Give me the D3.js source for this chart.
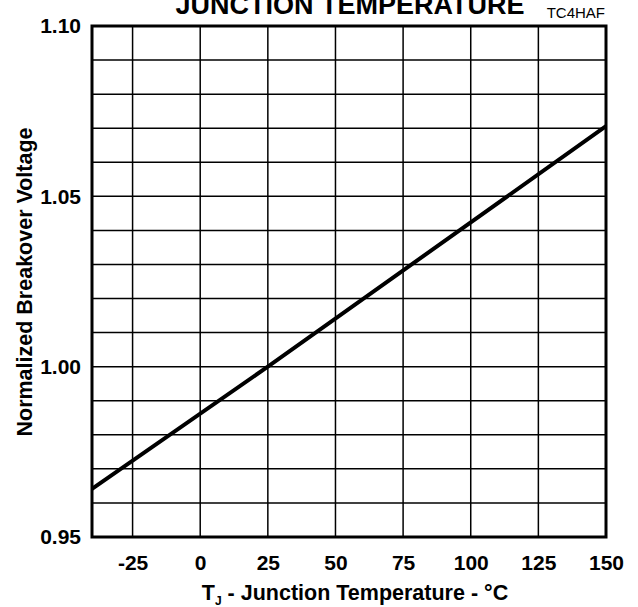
<!DOCTYPE html>
<html>
<head>
<meta charset="utf-8">
<script src="https://cdn.jsdelivr.net/npm/d3@7"></script>
<style>
  body { margin: 0; background: #fff; }
  svg { display: block; font-family: "Liberation Sans", Arial, sans-serif; }
</style>
</head>
<body>
<div id="chart"></div>
<script>
// values
const temps = [-40, 25, 150];
const voltage = [0.9641, 1.0, 1.0706];

const xTicks = [-25, 0, 25, 50, 75, 100, 125, 150];
const yGrid = [0.95, 0.96, 0.97, 0.98, 0.99, 1.00, 1.01, 1.02, 1.03, 1.04, 1.05, 1.06, 1.07, 1.08, 1.09, 1.10];
const yLabels = [0.95, 1.00, 1.05, 1.10];

const width = 638;
const height = 607;
const margin = {left: 92, right: 32, top: 26, bottom: 70};

const xScale = d3.scaleLinear()
    .domain([-40, 150])
    .range([margin.left, width - margin.right]);

const yScale = d3.scaleLinear()
    .domain([0.95, 1.10])
    .range([height - margin.bottom, margin.top]);

const svg = d3.select("#chart")
    .append("svg")
    .attr("width", width)
    .attr("height", height);

// grid
svg.append("g")
  .selectAll("line")
  .data(yGrid)
  .enter()
  .append("line")
  .attr("x1", xScale(-40))
  .attr("x2", xScale(150))
  .attr("y1", d => yScale(d))
  .attr("y2", d => yScale(d))
  .attr("stroke", "#000")
  .attr("stroke-width", 1.5);

svg.append("g")
  .selectAll("line")
  .data(xTicks)
  .enter()
  .append("line")
  .attr("x1", d => xScale(d))
  .attr("x2", d => xScale(d))
  .attr("y1", yScale(0.95))
  .attr("y2", yScale(1.10))
  .attr("stroke", "#000")
  .attr("stroke-width", 1.5);

// frame
svg.append("rect")
  .attr("x", xScale(-40))
  .attr("y", yScale(1.10))
  .attr("width", xScale(150) - xScale(-40))
  .attr("height", yScale(0.95) - yScale(1.10))
  .attr("fill", "none")
  .attr("stroke", "#000")
  .attr("stroke-width", 3);

// the curve
const line = d3.line()
    .x((d, i) => xScale(temps[i]))
    .y(d => yScale(d));

svg.append("path")
  .datum(voltage)
  .attr("d", line)
  .attr("fill", "none")
  .attr("stroke", "#000")
  .attr("stroke-width", 4);

// axis labels (plain hyphen for negatives, like the original)
const xAxis = d3.axisBottom(xScale)
    .tickValues(xTicks)
    .tickFormat(d => String(d))
    .tickSize(0)
    .tickPadding(18);

svg.append("g")
  .attr("transform", `translate(0,${yScale(0.95)})`)
  .call(xAxis)
  .call(g => g.select(".domain").remove())
  .selectAll("text")
  .attr("font-size", 21)
  .attr("font-weight", "bold")
  .attr("font-family", "Liberation Sans, Arial, sans-serif")
  .attr("fill", "#000");

const yAxis = d3.axisLeft(yScale)
    .tickValues(yLabels)
    .tickFormat(d3.format(".2f"))
    .tickSize(0)
    .tickPadding(11);

svg.append("g")
  .attr("transform", `translate(${xScale(-40)},0)`)
  .call(yAxis)
  .call(g => g.select(".domain").remove())
  .selectAll("text")
  .attr("font-size", 21)
  .attr("font-weight", "bold")
  .attr("font-family", "Liberation Sans, Arial, sans-serif")
  .attr("fill", "#000");

// titles
svg.append("text")
  .attr("x", 350)
  .attr("y", 14)
  .attr("text-anchor", "middle")
  .attr("font-size", 27)
  .attr("font-weight", "bold")
  .text("JUNCTION TEMPERATURE");

svg.append("text")
  .attr("x", 605)
  .attr("y", 18)
  .attr("text-anchor", "end")
  .attr("font-size", 15)
  .text("TC4HAF");

const xTitle = svg.append("text")
  .attr("x", 355)
  .attr("y", 600)
  .attr("text-anchor", "middle")
  .attr("font-size", 21.5)
  .attr("font-weight", "bold");
xTitle.append("tspan").text("T");
xTitle.append("tspan").attr("font-size", 12).attr("dy", 5).text("J");
xTitle.append("tspan").attr("dy", -5).text(" - Junction Temperature - °C");

svg.append("text")
  .attr("transform", "translate(32,282) rotate(-90)")
  .attr("text-anchor", "middle")
  .attr("font-size", 21.5)
  .attr("font-weight", "bold")
  .text("Normalized Breakover Voltage");
</script>
</body>
</html>
